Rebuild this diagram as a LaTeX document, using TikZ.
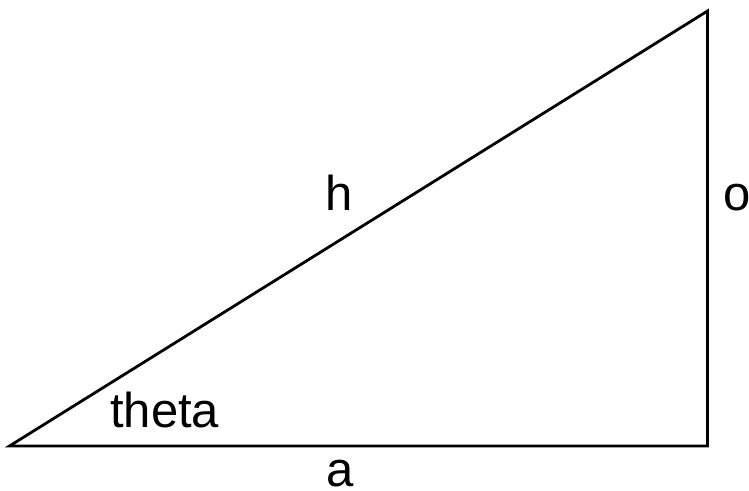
\documentclass[tikz,border=0pt]{standalone}
\usepackage{fontspec}
\setmainfont{Liberation Sans}
\begin{document}
\begin{tikzpicture}[x=1pt,y=-1pt,
  side/.style={line width=2.8pt,line join=miter},
  lbl/.style={anchor=base west,inner sep=0pt,font=\fontsize{49}{55}\selectfont}]
\useasboundingbox (0,0) rectangle (749,490);
\coordinate (A) at (9.5,446);
\coordinate (B) at (707.5,446);
\coordinate (C) at (707.5,11);
\draw[side] (A) -- (B) -- (C) -- cycle;
\node[lbl] (theta) at (110,427) {theta};
\node[lbl] (h) at (325,210) {h};
\node[lbl] (o) at (723,210) {o};
\node[lbl,text depth=0pt] (a) at (326,486) {a};
\end{tikzpicture}
\end{document}
